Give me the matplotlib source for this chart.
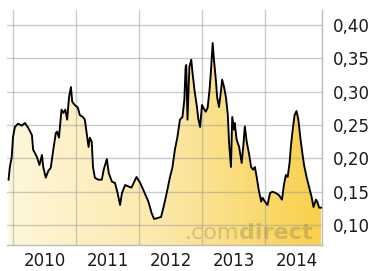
import numpy as np
import matplotlib
matplotlib.use('Agg')
import matplotlib.pyplot as plt
from matplotlib.colors import LinearSegmentedColormap
from matplotlib.ticker import FuncFormatter

# Zeitachse in Jahren (Dezimal) und Kurswerte
years = [2009.93, 2009.95, 2009.98, 2010.00, 2010.03, 2010.08, 2010.14, 2010.19, 2010.24, 2010.30,
         2010.32, 2010.38, 2010.42, 2010.46, 2010.48, 2010.52, 2010.56, 2010.60, 2010.64, 2010.68,
         2010.70, 2010.73, 2010.77, 2010.80, 2010.83, 2010.86, 2010.89, 2010.92, 2010.94, 2010.98,
         2011.03, 2011.06, 2011.11, 2011.14, 2011.17, 2011.20, 2011.22, 2011.25, 2011.27, 2011.30,
         2011.35, 2011.41, 2011.44, 2011.49, 2011.52, 2011.57, 2011.62, 2011.66, 2011.70, 2011.73,
         2011.78, 2011.83, 2011.88, 2011.96, 2012.02, 2012.08, 2012.15, 2012.20, 2012.24, 2012.31,
         2012.35, 2012.39, 2012.44, 2012.49, 2012.53, 2012.57, 2012.61, 2012.65, 2012.69, 2012.72,
         2012.74, 2012.75, 2012.77, 2012.80, 2012.83, 2012.85, 2012.88, 2012.92, 2012.94, 2012.97,
         2013.00, 2013.02, 2013.06, 2013.09, 2013.12, 2013.14, 2013.17, 2013.19, 2013.22, 2013.24,
         2013.27, 2013.30, 2013.32, 2013.35, 2013.38, 2013.41, 2013.43, 2013.46, 2013.48, 2013.51,
         2013.52, 2013.55, 2013.59, 2013.63, 2013.66, 2013.68, 2013.71, 2013.75, 2013.78, 2013.81,
         2013.84, 2013.87, 2013.90, 2013.94, 2013.96, 2014.00, 2014.04, 2014.08, 2014.12, 2014.17,
         2014.22, 2014.27, 2014.30, 2014.33, 2014.36, 2014.39, 2014.41, 2014.44, 2014.47, 2014.50,
         2014.53, 2014.56, 2014.59, 2014.62, 2014.66, 2014.70, 2014.74, 2014.77, 2014.81, 2014.83,
         2014.86, 2014.89]
prices = [0.168, 0.187, 0.202, 0.232, 0.247, 0.252, 0.249, 0.253, 0.246, 0.235,
          0.213, 0.202, 0.190, 0.205, 0.187, 0.171, 0.181, 0.186, 0.213, 0.238,
          0.240, 0.231, 0.273, 0.268, 0.273, 0.258, 0.292, 0.307, 0.285, 0.280,
          0.276, 0.265, 0.262, 0.258, 0.238, 0.217, 0.231, 0.225, 0.187, 0.171,
          0.168, 0.168, 0.183, 0.199, 0.178, 0.165, 0.163, 0.148, 0.130, 0.148,
          0.160, 0.158, 0.156, 0.172, 0.163, 0.150, 0.135, 0.118, 0.109, 0.111,
          0.112, 0.127, 0.148, 0.171, 0.186, 0.213, 0.232, 0.258, 0.262, 0.288,
          0.337, 0.340, 0.258, 0.337, 0.348, 0.328, 0.303, 0.277, 0.260, 0.247,
          0.280, 0.276, 0.270, 0.276, 0.303, 0.328, 0.373, 0.348, 0.318, 0.292,
          0.277, 0.300, 0.318, 0.307, 0.292, 0.265, 0.223, 0.187, 0.262, 0.243,
          0.253, 0.228, 0.217, 0.193, 0.223, 0.248, 0.225, 0.205, 0.187, 0.183,
          0.187, 0.171, 0.153, 0.135, 0.141, 0.135, 0.130, 0.148, 0.150, 0.148,
          0.145, 0.138, 0.160, 0.175, 0.172, 0.193, 0.217, 0.243, 0.265, 0.271,
          0.258, 0.232, 0.210, 0.190, 0.172, 0.157, 0.142, 0.127, 0.138, 0.135,
          0.126, 0.126]

year_labels = ['2010', '2011', '2012', '2013', '2014']
y_ticks = [0.10, 0.15, 0.20, 0.25, 0.30, 0.35, 0.40]

fig = plt.figure(figsize=(3.75, 2.71), dpi=100)
ax = fig.add_axes([7/375, 26/271, 315/375, 235/271])

x0, x1 = 2009.905, 2014.905
y0, y1 = 0.07, 0.4225
ax.set_xlim(x0, x1)
ax.set_ylim(y0, y1)

# Verlauf hell -> gold, an die Flaeche geklippt
cmap = LinearSegmentedColormap.from_list('gold', ['#fff7dc', '#fce8a8', '#f8d04a'])
grad = np.linspace(0, 1, 256).reshape(1, -1)
img = ax.imshow(grad, extent=[x0, x1, y0, y1], aspect='auto', cmap=cmap, zorder=1)
poly = ax.fill_between(years, prices, y0, facecolor='none', edgecolor='none')
img.set_clip_path(poly.get_paths()[0], transform=ax.transData)

ax.plot(years, prices, color='black', lw=1.35, zorder=3)

# Gitter
for y in y_ticks:
    ax.axhline(y, color='#999999', alpha=0.5, lw=1, zorder=2)
for yr in range(2010, 2015):
    ax.axvline(yr, color='#999999', alpha=0.5, lw=1, zorder=2)

ax.set_xticks([int(l) + 0.5 for l in year_labels])
ax.set_xticklabels(year_labels)
ax.set_yticks(y_ticks)
ax.yaxis.set_major_formatter(FuncFormatter(lambda v, p: f'{v:.2f}'.replace('.', ',')))
ax.yaxis.tick_right()
ax.tick_params(axis='both', length=0, labelsize=12, colors='#1a1a1a')
ax.tick_params(axis='y', pad=8)
ax.tick_params(axis='x', pad=5)

for s in ['left', 'top']:
    ax.spines[s].set_visible(False)
for s in ['right', 'bottom']:
    ax.spines[s].set_color('#bbbbbb')
    ax.spines[s].set_linewidth(1)
    ax.spines[s].set_zorder(2)

# Wasserzeichen
t2 = ax.text(0.971, 0.025, 'direct', transform=ax.transAxes, ha='right', va='baseline',
             fontsize=16, fontweight='bold', color='#7a7050', alpha=0.3, zorder=2)
fig.canvas.draw()
bb = t2.get_window_extent().transformed(ax.transAxes.inverted())
ax.text(bb.x0, 0.025, '.com', transform=ax.transAxes, ha='right', va='baseline',
        fontsize=16, color='#7a7050', alpha=0.3, zorder=2)

fig.savefig('out.png', dpi=100)
